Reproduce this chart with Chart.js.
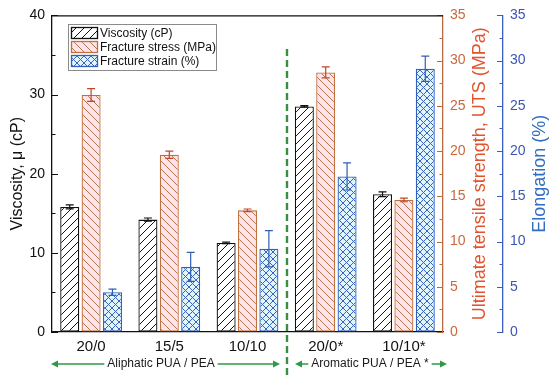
<!DOCTYPE html>
<html>
<head>
<meta charset="utf-8">
<script src="https://cdn.jsdelivr.net/npm/chart.js@4.4.0/dist/chart.umd.min.js"></script>
<style>
html,body{margin:0;padding:0;background:#fff;}
#wrap{width:550px;height:377px;}
</style>
</head>
<body>
<div id="wrap"><canvas id="myChart" width="550" height="377"></canvas></div>
<script>
// dados
const categories = ['20/0', '15/5', '10/10', '20/0*', '10/10*'];
const viscosity = [15.8, 14.2, 11.25, 28.5, 17.4];
const viscosityErr = [0.25, 0.2, 0.1, 0.1, 0.3];
const stress = [26.2, 19.6, 13.45, 28.7, 14.6];
const stressErr = [0.7, 0.4, 0.15, 0.6, 0.2];
const strain = [4.4, 7.2, 9.2, 17.2, 29.1];
const strainErr = [0.35, 1.6, 2.0, 1.5, 1.4];
const leftTicks = [0, 10, 20, 30, 40];
const rightTicks = [0, 5, 10, 15, 20, 25, 30, 35];
const groupNames = ['Aliphatic PUA / PEA', 'Aromatic PUA / PEA *'];

const FONT = "'Liberation Sans', Arial, sans-serif";
const ORANGE_AXIS = '#b86b40';
const ORANGE_TXT = '#c9683c';
const ORANGE_TITLE = '#e2542e';
const BLUE_AXIS = '#3b5cc0';
const BLUE_TXT = '#3a56b2';
const BLUE_TITLE = '#2f6ec2';
const GREEN = '#2f9a45';

function hatch(bg, line, kind, size){
    const c = document.createElement('canvas');
    c.width = size; c.height = size;
    const g = c.getContext('2d');
    g.fillStyle = bg;
    g.fillRect(0, 0, size, size);
    g.strokeStyle = line;
    g.lineWidth = 1;
    g.beginPath();
    if(kind == '/' || kind == 'x'){
        g.moveTo(-1, size + 1); g.lineTo(size + 1, -1);
        g.moveTo(-1, 1); g.lineTo(1, -1);
        g.moveTo(size - 1, size + 1); g.lineTo(size + 1, size - 1);
    }
    if(kind == '\\' || kind == 'x'){
        g.moveTo(-1, -1); g.lineTo(size + 1, size + 1);
        g.moveTo(size - 1, -1); g.lineTo(size + 1, 1);
        g.moveTo(-1, size - 1); g.lineTo(1, size + 1);
    }
    g.stroke();
    return g.createPattern(c, 'repeat');
}

const patVisc = hatch('#ffffff', '#111111', '/', 8);
const patStress = hatch('#fde3ea', '#b8744a', '\\', 8);
const patStrain = hatch('#dff5fa', '#3a62c0', 'x', 7);

// ticks pra dentro (maiores e menores)
const innerTicks = {
    id: 'innerTicks',
    afterDraw(chart){
        const ctx = chart.ctx;
        const defs = [
            {id: 'y', step: 10, color: '#111', dir: 1},
            {id: 'y1', step: 5, color: ORANGE_AXIS, dir: -1},
            {id: 'y2', step: 5, color: BLUE_AXIS, dir: -1}
        ];
        defs.forEach(d => {
            const sc = chart.scales[d.id];
            const x0 = d.dir > 0 ? sc.right : sc.left;
            ctx.save();
            ctx.strokeStyle = d.color;
            ctx.lineWidth = 1.2;
            ctx.beginPath();
            for(let v = sc.min; v <= sc.max + 0.001; v += d.step / 2){
                const y = Math.round(sc.getPixelForValue(v)) + 0.5;
                const major = Math.abs(v / d.step - Math.round(v / d.step)) < 0.01;
                const len = major ? 6 : 3.5;
                ctx.moveTo(x0, y);
                ctx.lineTo(x0 + d.dir * len, y);
            }
            ctx.stroke();
            ctx.restore();
        });
        // linha de cima
        const a = chart.chartArea;
        ctx.save();
        ctx.strokeStyle = '#111';
        ctx.lineWidth = 1.2;
        ctx.beginPath();
        ctx.moveTo(a.left, a.top + 0.5);
        ctx.lineTo(a.right, a.top + 0.5);
        ctx.stroke();
        ctx.restore();
    }
};

const errorBars = {
    id: 'errorBars',
    afterDatasetsDraw(chart){
        const ctx = chart.ctx;
        chart.data.datasets.forEach((ds, i) => {
            const meta = chart.getDatasetMeta(i);
            const sc = chart.scales[ds.yAxisID];
            ctx.save();
            ctx.strokeStyle = ds.errorColor;
            ctx.lineWidth = 1.2;
            ctx.beginPath();
            meta.data.forEach((bar, j) => {
                const top = sc.getPixelForValue(ds.data[j] + ds.errors[j]);
                const bot = sc.getPixelForValue(ds.data[j] - ds.errors[j]);
                ctx.moveTo(bar.x, top); ctx.lineTo(bar.x, bot);
                ctx.moveTo(bar.x - 4, top); ctx.lineTo(bar.x + 4, top);
                ctx.moveTo(bar.x - 4, bot); ctx.lineTo(bar.x + 4, bot);
            });
            ctx.stroke();
            ctx.restore();
        });
    }
};

function arrowHead(ctx, x, y, dir){
    ctx.beginPath();
    ctx.moveTo(x, y);
    ctx.lineTo(x - dir * 7, y - 3.5);
    ctx.lineTo(x - dir * 7, y + 3.5);
    ctx.closePath();
    ctx.fill();
}

const decorations = {
    id: 'decorations',
    afterDraw(chart){
        const ctx = chart.ctx;
        const a = chart.chartArea;
        const mid = a.top + (a.bottom - a.top) / 2;

        // titulos dos eixos
        const titles = [
            {text: 'Viscosity, \u03bc (cP)', x: 18, color: '#111', size: 16},
            {text: 'Ultimate tensile strength, UTS (MPa)', x: 480, color: ORANGE_TITLE, size: 18},
            {text: 'Elongation (%)', x: 540, color: BLUE_TITLE, size: 18}
        ];
        titles.forEach(t => {
            ctx.save();
            ctx.translate(t.x, mid);
            ctx.rotate(-Math.PI / 2);
            ctx.font = t.size + 'px ' + FONT;
            ctx.fillStyle = t.color;
            ctx.textAlign = 'center';
            ctx.textBaseline = 'middle';
            ctx.fillText(t.text, 0, 0);
            ctx.restore();
        });

        // legenda
        ctx.save();
        ctx.strokeStyle = '#8a8a8a';
        ctx.lineWidth = 1;
        ctx.strokeRect(68.5, 24.5, 148, 46);
        ctx.font = '12px ' + FONT;
        ctx.textBaseline = 'middle';
        chart.data.datasets.forEach((ds, i) => {
            const y = 27 + i * 14;
            ctx.fillStyle = ds.backgroundColor;
            ctx.fillRect(71, y, 27, 12);
            ctx.strokeStyle = ds.borderColor;
            ctx.lineWidth = 1.3;
            ctx.strokeRect(71.5, y + 0.5, 26, 11);
            ctx.fillStyle = '#111';
            ctx.fillText(ds.label, 100, y + 6.5);
        });
        ctx.restore();

        // linha tracejada entre os grupos
        const xs = chart.scales.x;
        const sep = Math.round((xs.getPixelForValue(2) + xs.getPixelForValue(3)) / 2);
        ctx.save();
        ctx.strokeStyle = '#3a8f3f';
        ctx.lineWidth = 2.4;
        ctx.setLineDash([7, 4]);
        ctx.beginPath();
        ctx.moveTo(sep, 49);
        ctx.lineTo(sep, 376);
        ctx.stroke();
        ctx.restore();

        // setas e nomes dos grupos
        const yA = 364;
        const groups = [
            {name: groupNames[0], x1: a.left - 1, x2: sep - 7, cx: 161},
            {name: groupNames[1], x1: sep + 8, x2: 447, cx: 370}
        ];
        ctx.save();
        ctx.font = '12px ' + FONT;
        ctx.textAlign = 'center';
        ctx.textBaseline = 'middle';
        groups.forEach(g => {
            const w = ctx.measureText(g.name).width;
            ctx.fillStyle = '#1a1a1a';
            ctx.fillText(g.name, g.cx, yA);
            ctx.strokeStyle = GREEN;
            ctx.fillStyle = GREEN;
            ctx.lineWidth = 1.6;
            ctx.beginPath();
            ctx.moveTo(g.x1 + 5, yA); ctx.lineTo(g.cx - w / 2 - 3, yA);
            ctx.moveTo(g.cx + w / 2 + 3, yA); ctx.lineTo(g.x2 - 5, yA);
            ctx.stroke();
            arrowHead(ctx, g.x1, yA, -1);
            arrowHead(ctx, g.x2, yA, 1);
        });
        ctx.restore();
    }
};

const ctxChart = document.getElementById('myChart');
const myChart = new Chart(ctxChart, {
    type: 'bar',
    data: {
        labels: categories,
        datasets: [{
            label: 'Viscosity (cP)',
            data: viscosity,
            errors: viscosityErr,
            errorColor: '#111111',
            yAxisID: 'y',
            backgroundColor: patVisc,
            borderColor: '#111111',
            borderWidth: 1.3,
            borderSkipped: false
        }, {
            label: 'Fracture stress (MPa)',
            data: stress,
            errors: stressErr,
            errorColor: '#c4452a',
            yAxisID: 'y1',
            backgroundColor: patStress,
            borderColor: '#c0703f',
            borderWidth: 1.3,
            borderSkipped: false
        }, {
            label: 'Fracture strain (%)',
            data: strain,
            errors: strainErr,
            errorColor: '#2f5fb5',
            yAxisID: 'y2',
            backgroundColor: patStrain,
            borderColor: '#3060c0',
            borderWidth: 1.3,
            borderSkipped: false
        }]
    },
    options: {
        responsive: false,
        animation: false,
        categoryPercentage: 0.82,
        barPercentage: 0.89,
        layout: {padding: {top: 12, left: 0, right: 0, bottom: 0}},
        plugins: {
            legend: {display: false},
            tooltip: {enabled: false}
        },
        scales: {
            x: {
                grid: {drawOnChartArea: false, drawTicks: false},
                border: {display: true, color: '#111', width: 1.3},
                ticks: {font: {family: FONT, size: 15}, color: '#111', padding: 6},
                afterFit: function(s){ s.height = 45; }
            },
            y: {
                position: 'left',
                min: 0, max: 40,
                afterBuildTicks: function(s){ s.ticks = leftTicks.map(v => ({value: v})); },
                grid: {drawOnChartArea: false, drawTicks: false},
                border: {display: true, color: '#111', width: 1.3},
                ticks: {font: {family: FONT, size: 14}, color: '#111', padding: 7},
                afterFit: function(s){ s.width = 52; }
            },
            y1: {
                position: 'right',
                min: 0, max: 35,
                afterBuildTicks: function(s){ s.ticks = rightTicks.map(v => ({value: v})); },
                grid: {drawOnChartArea: false, drawTicks: false},
                border: {display: true, color: ORANGE_AXIS, width: 1.3},
                ticks: {font: {family: FONT, size: 14}, color: ORANGE_TXT, padding: 7},
                afterFit: function(s){ s.width = 60; }
            },
            y2: {
                position: 'right',
                min: 0, max: 35,
                afterBuildTicks: function(s){ s.ticks = rightTicks.map(v => ({value: v})); },
                grid: {drawOnChartArea: false, drawTicks: false},
                border: {display: true, color: BLUE_AXIS, width: 1.3},
                ticks: {font: {family: FONT, size: 14}, color: BLUE_TXT, padding: 7},
                afterFit: function(s){ s.width = 47; }
            }
        }
    },
    plugins: [innerTicks, errorBars, decorations]
});
</script>
</body>
</html>
